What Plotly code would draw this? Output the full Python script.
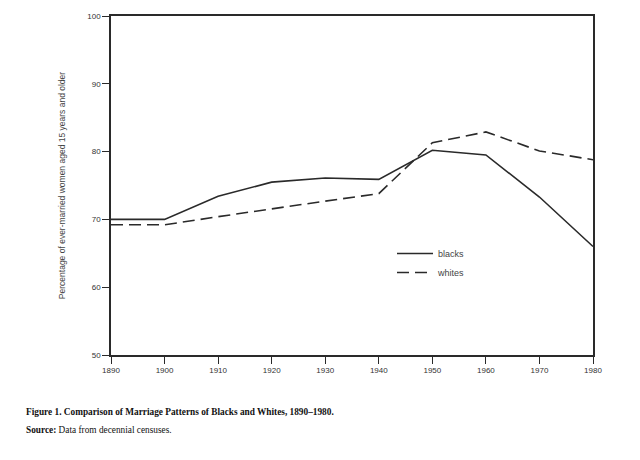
import plotly.graph_objects as go

years = [1890, 1900, 1910, 1920, 1930, 1940, 1950, 1960, 1970, 1980]
blacks = [70.0, 70.0, 73.4, 75.5, 76.1, 75.9, 80.2, 79.5, 73.3, 66.0]
whites = [69.2, 69.2, 70.4, 71.6, 72.7, 73.8, 81.3, 82.9, 80.1, 78.8]
x_ticks = [1890, 1900, 1910, 1920, 1930, 1940, 1950, 1960, 1970, 1980]
y_ticks = [50, 60, 70, 80, 90, 100]

ink = "#2a2a2a"
fig = go.Figure()
fig.add_trace(go.Scatter(x=years, y=blacks, mode="lines", name="blacks",
                         line=dict(color=ink, width=1.6)))
fig.add_trace(go.Scatter(x=years, y=whites, mode="lines", name="whites",
                         line=dict(color=ink, width=1.6, dash="12px,6px")))

axis_common = dict(showgrid=False, zeroline=False, showline=True, linecolor=ink,
                   linewidth=1.5, mirror=True, ticks="outside", ticklen=7,
                   tickwidth=1.3, tickcolor=ink,
                   tickfont=dict(family="Liberation Sans, Arial", size=8, color="#333"))

fig.update_layout(
    width=640, height=460,
    margin=dict(l=111, r=47, t=13, b=105),
    paper_bgcolor="white", plot_bgcolor="white",
    xaxis=dict(range=[1890, 1980], tickvals=x_ticks, **axis_common),
    yaxis=dict(range=[50, 100], tickvals=y_ticks,
               title=dict(text="Percentage of ever-married women aged 15 years and older",
                          font=dict(family="Liberation Sans, Arial", size=8.5, color="#444"),
                          standoff=20),
               **axis_common),
    legend=dict(x=0.583, y=0.342, xanchor="left", yanchor="top",
                bgcolor="rgba(0,0,0,0)", itemwidth=36,
                font=dict(family="Liberation Sans, Arial", size=9, color="#444")),
    showlegend=True,
)

fig.add_annotation(xref="paper", yref="paper", x=-0.18, y=-0.167, xanchor="left", yanchor="middle",
                   showarrow=False, align="left",
                   text="<b>Figure 1. Comparison of Marriage Patterns of Blacks and Whites, 1890\u20131980.</b>",
                   font=dict(family="Liberation Serif, Times New Roman", size=9.3, color="#111"))
fig.add_annotation(xref="paper", yref="paper", x=-0.18, y=-0.22, xanchor="left", yanchor="middle",
                   showarrow=False, align="left",
                   text="<b>Source:</b> Data from decennial censuses.",
                   font=dict(family="Liberation Serif, Times New Roman", size=9.3, color="#111"))

fig.write_html("out.html")
